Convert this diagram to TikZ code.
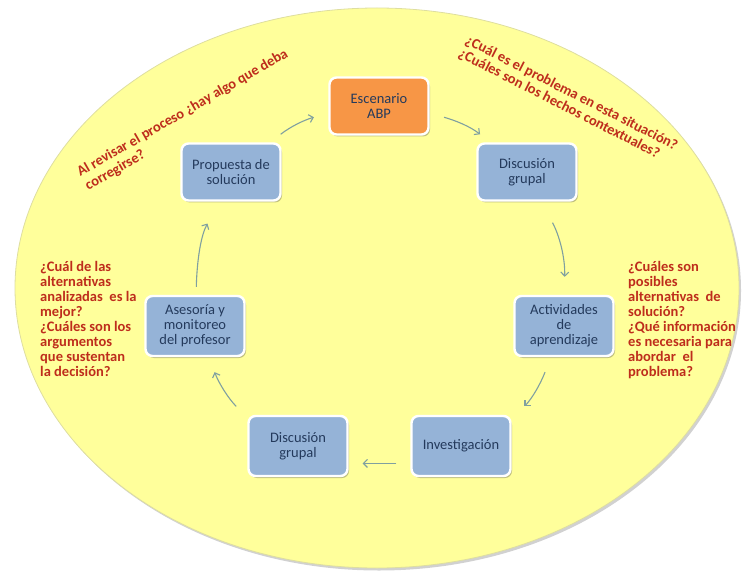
\documentclass[tikz,border=0pt]{standalone}
\usepackage{fontspec}
\setmainfont{Carlito}
\usetikzlibrary{arrows.meta,shadows}
\definecolor{ellfill}{RGB}{255,255,155}
\definecolor{elledge}{RGB}{222,222,160}
\definecolor{boxblue}{RGB}{149,179,215}
\definecolor{boxorange}{RGB}{247,150,70}
\definecolor{boxtext}{RGB}{36,58,92}
\definecolor{qred}{RGB}{190,45,28}
\definecolor{arrcol}{RGB}{128,160,160}
\tikzset{
  cyclebox/.style={rectangle, rounded corners=7pt, fill=boxblue, draw=white, line width=2.4pt,
    minimum width=99pt, minimum height=57pt, align=center, text=boxtext,
    font=\fontsize{14.5}{15}\selectfont, inner sep=2pt,
    drop shadow={shadow xshift=1.5pt, shadow yshift=-2pt, opacity=0.35, fill=black!70}},
  startbox/.style={cyclebox, fill=boxorange},
  question/.style={text=qred, font=\fontsize{14.5}{15}\bfseries\selectfont, align=left, inner sep=0pt},
  cyclearrow/.style={draw=arrcol, line width=1.1pt, -{Straight Barb[length=4pt,width=8pt]}}
}
\begin{document}
\begin{tikzpicture}[x=1pt,y=1pt]
\useasboundingbox (0,0) rectangle (743,571);
% background ellipse
\path[fill=ellfill, draw=elledge, line width=0.8pt,
  drop shadow={shadow xshift=2pt, shadow yshift=-2.5pt, opacity=0.3, fill=black!60}]
  (377,283) ellipse [x radius=362, y radius=280];
% boxes
\node[startbox] (esc) at (379,465) {Escenario\\ABP};
\node[cyclebox] (disc1) at (527,399) {Discusión\\grupal};
\node[cyclebox, minimum height=60pt] (act) at (564,245) {Actividades\\de\\aprendizaje};
\node[cyclebox, minimum height=60pt] (inv) at (461,125) {Investigación};
\node[cyclebox, minimum height=60pt] (disc2) at (298,125) {Discusión\\grupal};
\node[cyclebox, minimum height=60pt] (ases) at (195,245) {Asesoría y\\monitoreo\\del profesor};
\node[cyclebox] (prop) at (231,399) {Propuesta de\\solución};
% arrows
\draw[cyclearrow, shorten <=13pt, shorten >=15pt] (prop.37) to[out=38, in=196] (esc.188);
\draw[cyclearrow, shorten <=15pt, shorten >=13pt] (esc.352) to[out=-16, in=142] (disc1.141);
\draw[cyclearrow, shorten <=24pt, shorten >=18pt] (disc1.295) to[out=-61, in=88] (act.90);
\draw[cyclearrow, shorten <=16pt, shorten >=18pt] (act.247) to[out=-111, in=45] (inv.28);
\draw[cyclearrow, shorten <=14pt, shorten >=14pt] (inv.199) -- (disc2.341);
\draw[cyclearrow, shorten <=16pt, shorten >=16pt] (disc2.151) to[out=134, in=-69] (ases.294);
\draw[cyclearrow, shorten <=8pt, shorten >=25pt] (ases.88) to[out=88.5, in=241] (prop.249);
% questions
\node[question, rotate=30, anchor=north west, font=\fontsize{14.5}{16}\bfseries\selectfont] (qtl) at (75,403)
  {Al revisar el proceso ¿hay algo que deba\\corregirse?};
\node[question, rotate=-27, anchor=north west, font=\fontsize{14.5}{15}\bfseries\selectfont] (qtr) at (469,537)
  {¿Cuál es el problema en esta situación?\\¿Cuáles son los hechos contextuales?};
\node[question, anchor=north west] (ql) at (40,310)
  {¿Cuál de las\\alternativas\\analizadas\ \ es la\\mejor?\\¿Cuáles son los\\argumentos\\que sustentan\\la decisión?};
\node[question, anchor=north west] (qr) at (628,310)
  {¿Cuáles son\\posibles\\alternativas\ \ de\\solución?\\¿Qué información\\es necesaria para\\abordar\ \ el\\problema?};
\end{tikzpicture}
\end{document}
